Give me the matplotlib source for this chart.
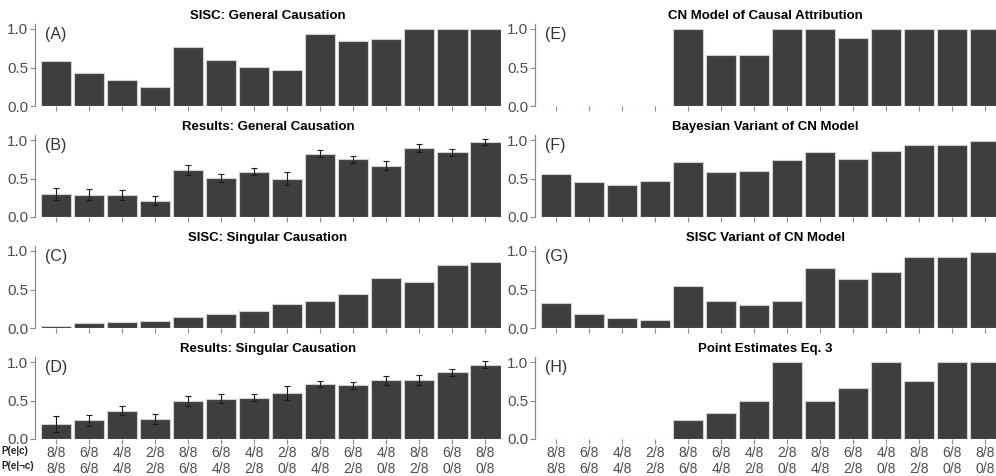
import numpy as np
import matplotlib
matplotlib.use("Agg")
from matplotlib import pyplot as plt

plt.rcParams['font.family'] = ['Liberation Sans', 'DejaVu Sans']

# contingencies P(e|c) / P(e|~c)
p_e_c = ["8/8", "6/8", "4/8", "2/8", "8/8", "6/8", "4/8", "2/8",
         "8/8", "6/8", "4/8", "8/8", "6/8", "8/8"]
p_e_notc = ["8/8", "6/8", "4/8", "2/8", "6/8", "4/8", "2/8", "0/8",
            "4/8", "2/8", "0/8", "2/8", "0/8", "0/8"]

sisc_general = [0.58, 0.43, 0.34, 0.25, 0.76, 0.60, 0.51, 0.47,
                0.93, 0.84, 0.87, 1.0, 1.0, 1.0]
results_general = [0.30, 0.29, 0.29, 0.21, 0.61, 0.51, 0.59, 0.50,
                    0.82, 0.75, 0.665, 0.895, 0.84, 0.975]
results_general_err = [0.08, 0.07, 0.065, 0.06, 0.063, 0.052, 0.04, 0.08,
                       0.045, 0.043, 0.058, 0.052, 0.043, 0.04]
sisc_singular = [0.025, 0.068, 0.084, 0.089, 0.139, 0.181, 0.224, 0.316,
                 0.354, 0.44, 0.65, 0.60, 0.815, 0.855]
results_singular = [0.195, 0.245, 0.37, 0.26, 0.495, 0.525, 0.535, 0.595,
                    0.715, 0.695, 0.76, 0.765, 0.865, 0.965]
results_singular_err = [0.10, 0.07, 0.055, 0.066, 0.068, 0.053, 0.044, 0.088,
                        0.04, 0.04, 0.062, 0.062, 0.048, 0.044]
cn_model = [0.0, 0.0, 0.0, 0.0, 1.0, 0.667, 0.667, 1.0,
            1.0, 0.889, 1.0, 1.0, 1.0, 1.0]
bayes_cn = [0.56, 0.45, 0.42, 0.465, 0.71, 0.59, 0.60, 0.74,
            0.845, 0.757, 0.86, 0.93, 0.94, 0.987]
sisc_cn = [0.326, 0.187, 0.13, 0.11, 0.54, 0.348, 0.296, 0.348,
           0.778, 0.63, 0.73, 0.917, 0.917, 0.983]
point_est = [0.0, 0.0, 0.0, 0.0, 0.25, 0.333, 0.5, 1.0,
             0.5, 0.667, 1.0, 0.75, 1.0, 1.0]

panels = [
    ("SISC: General Causation", "(A)", sisc_general, None),
    ("Results: General Causation", "(B)", results_general, results_general_err),
    ("SISC: Singular Causation", "(C)", sisc_singular, None),
    ("Results: Singular Causation", "(D)", results_singular, results_singular_err),
    ("CN Model of Causal Attribution", "(E)", cn_model, None),
    ("Bayesian Variant of CN Model", "(F)", bayes_cn, None),
    ("SISC Variant of CN Model", "(G)", sisc_cn, None),
    ("Point Estimates Eq. 3", "(H)", point_est, None),
]

W, H = 996, 476
fig = plt.figure(figsize=(W / 100, H / 100), dpi=100)

bar_col = "#3e3e3e"
grey = "#4d4d4d"
x = np.arange(len(p_e_c))
bottoms = [106, 217, 328, 439]
unit = 77.0
ytop = 1.06

for i, (title, tag, vals, err) in enumerate(panels):
    col, row = divmod(i, 4)
    if col == 0:
        left, right, xr = 35, 501, 13.48
    else:
        left, right, xr = 535, 996, 13.33
    b = bottoms[row]
    ax = fig.add_axes([left / W, (H - b) / H, (right - left) / W, unit * ytop / H])
    ax.bar(x, vals, width=0.93, color=bar_col, edgecolor="#d0d0d0", linewidth=0.8)
    if err is not None:
        ax.errorbar(x, vals, yerr=err, fmt="none", ecolor="#1a1a1a",
                    elinewidth=0.8, capsize=2.5, capthick=0.8)
    ax.set_xlim(-0.64, xr)
    ax.set_ylim(0, ytop)
    ax.set_yticks([0, 0.5, 1.0])
    ax.set_yticklabels(["0.0", "0.5", "1.0"])
    ax.set_xticks(x)
    for s in ["top", "right", "bottom"]:
        ax.spines[s].set_visible(False)
    ax.spines["left"].set_color("#8a8a8a")
    ax.spines["left"].set_linewidth(0.9)
    ax.tick_params(axis="both", colors="#8a8a8a", length=3.5, width=0.8,
                   labelcolor=grey, labelsize=11, pad=1.5)
    if row == 3:
        ax.set_xticklabels([a + "\n" + c for a, c in zip(p_e_c, p_e_notc)],
                           fontsize=10, linespacing=1.15)
    else:
        ax.set_xticklabels([])
    ax.set_title(title, fontsize=9.5, fontweight="bold", pad=4)
    ax.text(0.022, 0.87, tag, transform=ax.transAxes, ha="left", va="center",
            fontsize=11.5, color="#333333")

fig.text(0.001, (H - 451) / H, "P(e|c)", fontsize=7, ha="left", va="center",
         color="#222222", fontweight="bold")
fig.text(0.001, (H - 466) / H, "P(e|\u00acc)", fontsize=7, ha="left", va="center",
         color="#222222", fontweight="bold")

fig.savefig("out.png", dpi=100)
